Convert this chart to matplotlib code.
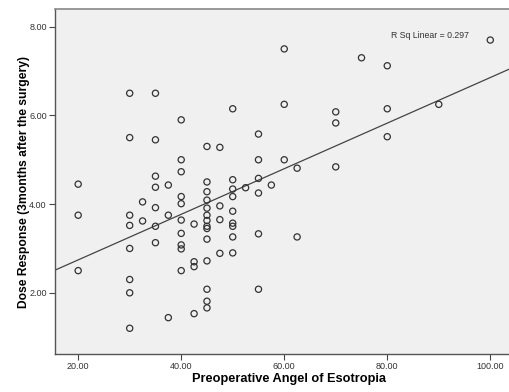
import numpy as np
import matplotlib
matplotlib.use("Agg")
import matplotlib.pyplot as plt

plt.rcParams['font.family'] = ['Liberation Sans', 'DejaVu Sans']

# Preoperative angle (x) and dose response (y)
angle = [20, 20, 20,
         30, 30, 30, 30, 30, 30, 30, 30,
         32.5, 32.5,
         35, 35, 35, 35, 35, 35, 35,
         37.5, 37.5, 37.5,
         40, 40, 40, 40, 40, 40, 40, 40, 40, 40,
         42.5, 42.5, 42.5, 42.5,
         45, 45, 45, 45, 45, 45, 45, 45, 45, 45, 45, 45, 45, 45,
         47.5, 47.5, 47.5, 47.5,
         50, 50, 50, 50, 50, 50, 50, 50, 50,
         52.5,
         55, 55, 55, 55, 55, 55,
         57.5,
         60, 60, 60,
         62.5, 62.5,
         70, 70, 70,
         75,
         80, 80, 80,
         90,
         100]
response = [4.45, 3.75, 2.50,
            6.50, 5.50, 3.75, 3.52, 3.00, 2.30, 2.00, 1.20,
            4.05, 3.62,
            6.50, 5.45, 4.63, 4.38, 3.92, 3.50, 3.13,
            4.43, 3.75, 1.44,
            5.90, 5.00, 4.73, 4.17, 4.01, 3.64, 3.34, 3.08, 2.99, 2.50,
            3.55, 2.70, 2.59, 1.53,
            5.30, 4.50, 4.28, 4.09, 3.91, 3.75, 3.63, 3.50, 3.45, 3.21, 2.72, 2.08, 1.81, 1.66,
            5.28, 3.96, 3.65, 2.89,
            6.15, 4.55, 4.34, 4.17, 3.84, 3.57, 3.50, 3.26, 2.90,
            4.37,
            5.58, 5.00, 4.58, 4.25, 3.33, 2.08,
            4.43,
            7.50, 6.25, 5.00,
            4.81, 3.26,
            6.08, 5.83, 4.84,
            7.30,
            7.12, 6.15, 5.52,
            6.25,
            7.70]

x_ticks = [20, 40, 60, 80, 100]
x_tick_labels = ["20.00", "40.00", "60.00", "80.00", "100.00"]
y_ticks = [2, 4, 6, 8]
y_tick_labels = ["2.00", "4.00", "6.00", "8.00"]
r2_label = "R Sq Linear = 0.297"

W, H = 509, 392
fig = plt.figure(figsize=(W / 100, H / 100), dpi=100)
ax = fig.add_axes([55 / W, 1 - 354 / H, (522 - 55) / W, (354 - 9) / H])
ax.set_facecolor('#f0f0f0')

x = np.array(angle)
y = np.array(response)
ax.scatter(x, y, s=20, facecolors='none', edgecolors='#333333', linewidths=0.9, zorder=3)

xlim = (15.5, 20 + (522 - 78.3) / 5.15)
ylim = (0.62, 8.4)
slope, intercept = np.polyfit(x, y, 1)
xx = np.array(xlim)
ax.plot(xx, intercept + slope * xx, color='#444444', linewidth=0.9, zorder=2)

ax.set_xlim(*xlim)
ax.set_ylim(*ylim)
ax.set_xticks(x_ticks)
ax.set_xticklabels(x_tick_labels)
ax.set_yticks(y_ticks)
ax.set_yticklabels(y_tick_labels)
ax.tick_params(axis='both', labelsize=6.5, colors='#444444', length=4, width=0.8, pad=2)
ax.tick_params(axis='both', labelcolor='#333333')

for side in ['left', 'bottom']:
    ax.spines[side].set_color('#555555')
    ax.spines[side].set_linewidth(1.0)
ax.spines['top'].set_color('#888888')
ax.spines['top'].set_linewidth(1.2)
ax.spines['right'].set_visible(False)

ax.set_xlabel("Preoperative Angel of Esotropia", fontsize=9.2, fontweight='bold', labelpad=1)
ax.set_ylabel("Dose Response (3months after the surgery)", fontsize=8.7, fontweight='bold', labelpad=-0.5)

ax.text(88.2, 7.81, r2_label, fontsize=6.3, color='#333333', ha='center', va='center')

fig.savefig("out.png", dpi=100)
